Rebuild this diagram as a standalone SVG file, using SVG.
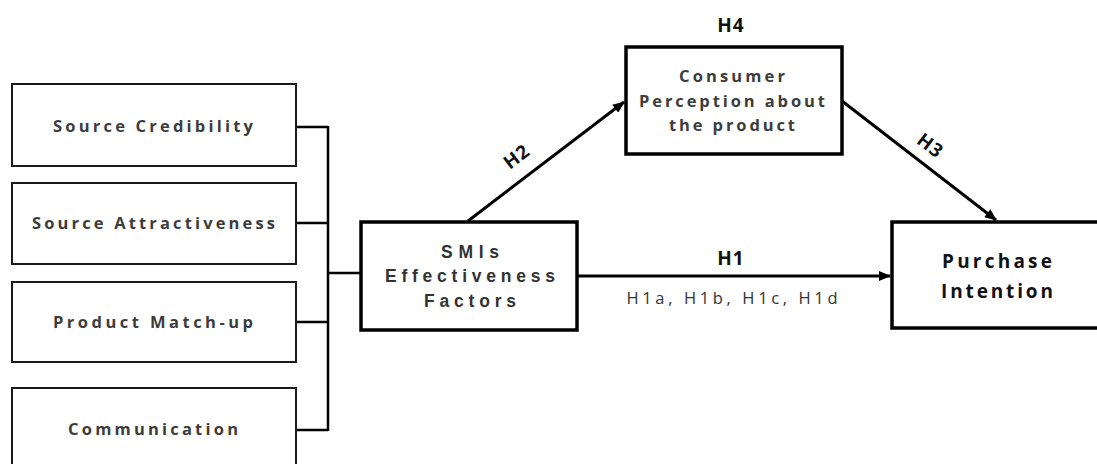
<svg xmlns="http://www.w3.org/2000/svg" width="1097" height="464" viewBox="0 0 1097 464">
<style>
.lbox{fill:#fff;stroke:#1a1a1a;stroke-width:2}
.tbox{fill:#fff;stroke:#000;stroke-width:3.5}
.lt{font-family:"Open Sans","Noto Sans",sans-serif;font-weight:bold;font-size:16.5px;fill:#3c3c3c;text-anchor:middle}
.ct{font-family:"Open Sans","Noto Sans",sans-serif;font-weight:bold;font-size:16.5px;fill:#3c3c3c;text-anchor:middle}
.st{font-family:"Liberation Sans",Arial,sans-serif;font-weight:bold;font-size:17.5px;fill:#333;text-anchor:middle}
.pt{font-family:"Open Sans","Noto Sans",sans-serif;font-weight:bold;font-size:19px;fill:#111;text-anchor:middle}
.ht{font-family:"Open Sans","Noto Sans",sans-serif;font-weight:bold;font-size:19px;fill:#111;text-anchor:middle;letter-spacing:1px}
.ha{font-family:"Open Sans","Noto Sans",sans-serif;font-size:16.5px;fill:#333;text-anchor:middle}
.conn{fill:none;stroke:#000;stroke-width:2.5}
.arr{fill:none;stroke:#000;stroke-width:3}
</style>
<defs>
<marker id="ah" viewBox="0 0 12 10" refX="11" refY="5" markerWidth="13" markerHeight="10" markerUnits="userSpaceOnUse" orient="auto">
<path d="M0,0 L12,5 L0,10 Z" fill="#000"/>
</marker>
</defs>
<rect width="1097" height="464" fill="#fff"/>
<g id="connectors">
<path class="conn" d="M296,127 H328 M296,223 H328 M296,322 H328 M296,430 H328 M328,126 V431 M328,273 H361"/>
<line class="arr" x1="468" y1="221" x2="624" y2="102" marker-end="url(#ah)"/>
<line class="arr" x1="842" y1="101" x2="996" y2="220" marker-end="url(#ah)"/>
<line class="arr" x1="577" y1="276" x2="890" y2="276" marker-end="url(#ah)"/>
</g>
<g id="source-credibility">
<rect class="lbox" x="12" y="84" width="284" height="82"/>
<text class="lt" x="153" y="132" textLength="200" lengthAdjust="spacing">Source Credibility</text>
</g>
<g id="source-attractiveness">
<rect class="lbox" x="12" y="183" width="284" height="81"/>
<text class="lt" x="153.5" y="229" textLength="243" lengthAdjust="spacing">Source Attractiveness</text>
</g>
<g id="product-matchup">
<rect class="lbox" x="12" y="282" width="284" height="80"/>
<text class="lt" x="153" y="328" textLength="200" lengthAdjust="spacing">Product Match-up</text>
</g>
<g id="communication">
<rect class="lbox" x="12" y="388" width="284" height="90"/>
<text class="lt" x="153" y="435" textLength="170" lengthAdjust="spacing">Communication</text>
</g>
<g id="smis">
<rect class="tbox" x="361" y="222" width="216" height="108"/>
<text class="st" x="470" y="258" textLength="58" lengthAdjust="spacing">SMIs</text>
<text class="st" x="470" y="282" textLength="170" lengthAdjust="spacing">Effectiveness</text>
<text class="st" x="470" y="307" textLength="92" lengthAdjust="spacing">Factors</text>
</g>
<g id="consumer-perception">
<rect class="tbox" x="626" y="47" width="216" height="107"/>
<text class="ct" x="732" y="82" textLength="106" lengthAdjust="spacing">Consumer</text>
<text class="ct" x="732" y="107" textLength="186" lengthAdjust="spacing">Perception about</text>
<text class="ct" x="732" y="131" textLength="126" lengthAdjust="spacing">the product</text>
</g>
<g id="purchase-intention">
<rect class="tbox" x="892" y="222" width="215" height="106"/>
<text class="pt" x="997" y="268" textLength="110" lengthAdjust="spacing">Purchase</text>
<text class="pt" x="997" y="298" textLength="112" lengthAdjust="spacing">Intention</text>
</g>
<g id="labels">
<text class="ht" x="731" y="32">H4</text>
<text class="ht" transform="translate(517,157) rotate(-37)" y="6">H2</text>
<text class="ht" transform="translate(930,146) rotate(37)" y="6">H3</text>
<text class="ht" x="731" y="265">H1</text>
<text class="ha" x="732" y="304" textLength="211" lengthAdjust="spacing">H1a, H1b, H1c, H1d</text>
</g>
</svg>
